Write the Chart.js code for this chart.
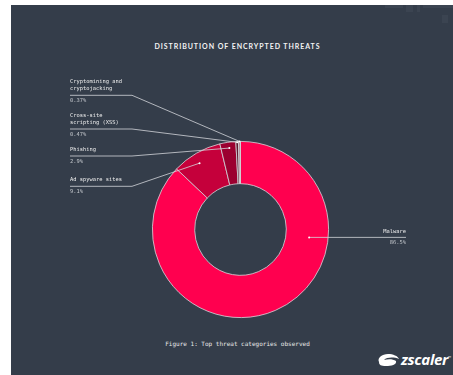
<!DOCTYPE html>
<html>
<head>
<meta charset="utf-8">
<script src="https://cdn.jsdelivr.net/npm/chart.js@4.4.0/dist/chart.umd.min.js"></script>
<style>
  html, body { margin: 0; padding: 0; background: #fff; }
  body { width: 453px; height: 375px; position: relative; overflow: hidden; }
  #panel { position: absolute; left: 11px; top: 5px; right: 0; bottom: 0; background: #343d4a; }
  .deco { position: absolute; background: #3b4451; }
  #title { position: absolute; left: 22px; width: 431px; top: 42px; text-align: center;
           font: bold 7px Lato, sans-serif; letter-spacing: 0.95px; color: #f2f2f2; }
  #caption { position: absolute; left: 0; width: 475px; top: 340px; text-align: center;
             font: 6px "DejaVu Sans Mono", monospace; color: #e8e8e8; }
  #logo { position: absolute; left: 376px; top: 349px; color: #fff;
          font: italic bold 15px "Open Sans", sans-serif; letter-spacing: -0.3px; }
  #logo svg { vertical-align: -2px; margin-right: 1px; }
  canvas { position: absolute; left: 0; top: 0; }
</style>
</head>
<body>
<div id="panel"></div>
<div class="deco" style="left:385px;top:5px;width:18px;height:3px"></div>
<div class="deco" style="left:406px;top:5px;width:7px;height:7px"></div>
<div class="deco" style="left:417px;top:5px;width:3px;height:7px"></div>
<div class="deco" style="left:423px;top:5px;width:30px;height:3px"></div>
<div class="deco" style="left:442px;top:15px;width:6px;height:8px"></div>
<div id="title">DISTRIBUTION OF ENCRYPTED THREATS</div>
<div id="caption">Figure 1: Top threat categories observed</div>
<div id="logo"><svg width="24" height="14" viewBox="0 0 24 14"><path d="M3 9 C1 5 6 1 12 1 C17 1 22 3 23 6 C18 4 11 4 8 7 C12 6 17 6 20 8 C21 12 15 13 10 13 C5 13 3 12 3 9 Z" fill="#fff"/></svg>zscaler<sup style="font-size:4px;font-style:normal;font-weight:normal">™</sup></div>
<canvas id="chart" width="453" height="375"></canvas>
<script>
const categories = ['Malware', 'Ad spyware sites', 'Phishing', 'Cross-site scripting (XSS)', 'Cryptomining and cryptojacking'];
const labelLines = [['Malware'], ['Ad spyware sites'], ['Phishing'], ['Cross-site', 'scripting (XSS)'], ['Cryptomining and', 'cryptojacking']];
const shares = [86.5, 9.1, 2.9, 0.47, 0.37];
const colors = ['#ff004f', '#c5003b', '#9b0030', '#5e1a30', '#b88a99'];

// where each leader line starts inside its slice (fraction of the angle / of the ring)
const anchorAngle = [0.308, 0.45, 0.55, 0.5, 0.5];
const anchorRing = [0.55, 0.76, 0.86, 0.98, 1.0];
// label rules: y of horizontal rule, for left ones text starts at x=70
const ruleY = [null, 186.3, 156, 129, 95.3];

const leaderPlugin = {
    id: 'leaders',
    afterDatasetsDraw(chart) {
        const ctx = chart.ctx;
        const arcs = chart.getDatasetMeta(0).data;
        ctx.save();
        ctx.strokeStyle = '#d3d6db';
        ctx.lineWidth = 0.8;
        ctx.font = '5.4px "DejaVu Sans Mono", monospace';
        ctx.textBaseline = 'middle';
        arcs.forEach((arc, i) => {
            const p = arc.getProps(['x', 'y', 'startAngle', 'endAngle', 'innerRadius', 'outerRadius'], true);
            const a = p.startAngle + anchorAngle[i] * (p.endAngle - p.startAngle);
            const r = p.innerRadius + anchorRing[i] * (p.outerRadius - p.innerRadius);
            const ax = p.x + Math.cos(a) * r;
            const ay = p.y + Math.sin(a) * r;
            const pct = shares[i] + '%';

            ctx.beginPath();
            if (i === 0) {
                // malware: straight to the right
                const endX = 406;
                ctx.moveTo(ax, ay);
                ctx.lineTo(endX, ay);
                ctx.stroke();
                ctx.textAlign = 'right';
                ctx.fillStyle = '#eeeeee';
                ctx.fillText(labelLines[i][0], endX, ay - 5.6);
                ctx.fillStyle = '#c4c8cd';
                ctx.fillText(pct, endX, ay + 5.7);
            } else {
                const y = ruleY[i];
                ctx.moveTo(70, y);
                ctx.lineTo(132, y);
                ctx.lineTo(ax, ay);
                ctx.stroke();
                ctx.textAlign = 'left';
                ctx.fillStyle = '#eeeeee';
                const lines = labelLines[i];
                lines.forEach((t, k) => {
                    ctx.fillText(t, 70, y - 6.3 - (lines.length - 1 - k) * 7);
                });
                ctx.fillStyle = '#c4c8cd';
                ctx.fillText(pct, 70, y + 5.5);
            }
            ctx.fillStyle = '#ffffff';
            ctx.beginPath();
            ctx.arc(ax, ay, 1, 0, Math.PI * 2);
            ctx.fill();
        });
        ctx.restore();
    }
};

new Chart(document.getElementById('chart'), {
    type: 'doughnut',
    data: {
        labels: categories,
        datasets: [{
            data: shares,
            backgroundColor: colors,
            borderColor: '#d6d8dc',
            borderWidth: 0.8
        }]
    },
    options: {
        responsive: false,
        animation: false,
        cutout: '52%',
        layout: { padding: { left: 152, right: 124, top: 141, bottom: 57 } },
        plugins: {
            legend: { display: false },
            tooltip: { enabled: false }
        }
    },
    plugins: [leaderPlugin]
});
</script>
</body>
</html>
